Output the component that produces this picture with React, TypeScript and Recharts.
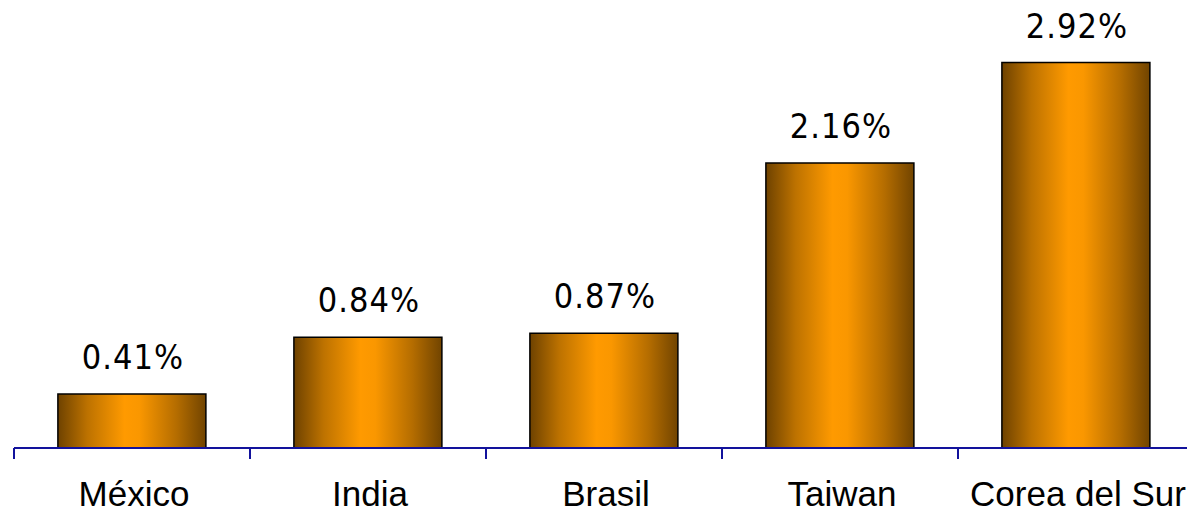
import React from "react";
import { BarChart, Bar, XAxis, YAxis, LabelList } from "recharts";

const categories = ["México", "India", "Brasil", "Taiwan", "Corea del Sur"];
const values = [0.41, 0.84, 0.87, 2.16, 2.92];
const valueLabels = ["0.41%", "0.84%", "0.87%", "2.16%", "2.92%"];

const data = categories.map((c, i) => ({ name: c, value: values[i], label: valueLabels[i] }));

const AXIS_COLOR = "#12129c";

const CategoryTick = (props: any) => {
  const { x, y, payload, index, visibleTicksCount } = props;
  const half = payload && payload.offset ? payload.offset : 0;
  const last = index === (visibleTicksCount ? visibleTicksCount - 1 : categories.length - 1);
  return (
    <g>
      <line x1={x - half} x2={x - half} y1={y} y2={y + 11} stroke={AXIS_COLOR} strokeWidth={2} />
      {last && <line x1={x + half - 1} x2={x + half - 1} y1={y} y2={y + 11} stroke={AXIS_COLOR} strokeWidth={2} />}
      <text
        x={x + 2}
        y={y + 58}
        textAnchor="middle"
        fontFamily="'Liberation Sans', Arial, sans-serif"
        fontSize={35}
        fill="#000"
      >
        {payload.value}
      </text>
    </g>
  );
};

const ValueLabel = (props: any) => {
  const { x, y, width, index } = props;
  return (
    <text
      x={x + width / 2 + 1}
      y={y - 25}
      textAnchor="middle"
      fontFamily="'DejaVu Sans Condensed', 'DejaVu Sans', sans-serif"
      fontStretch="condensed"
      fontSize={34}
      letterSpacing={1}
      fill="#000"
    >
      {valueLabels[index]}
    </text>
  );
};

export default function App() {
  return (
    <div style={{ width: 1195, height: 514, background: "#fff", margin: "-8px 0 0 -8px" }}>
      <BarChart
        width={1195}
        height={514}
        data={data}
        margin={{ top: 23, right: 1, bottom: 0, left: 14 }}
        barCategoryGap="18.6%"
      >
        <defs>
          <linearGradient id="barGrad" x1="0" y1="0" x2="1" y2="0">
            <stop offset="0%" stopColor="#6E4200" />
            <stop offset="20%" stopColor="#BD7200" />
            <stop offset="45%" stopColor="#FF9A00" />
            <stop offset="55%" stopColor="#FA9700" />
            <stop offset="80%" stopColor="#B56D00" />
            <stop offset="100%" stopColor="#714400" />
          </linearGradient>
        </defs>
        <XAxis
          dataKey="name"
          height={66}
          tickSize={0}
          tickMargin={0}
          tickLine={false}
          axisLine={{ stroke: AXIS_COLOR, strokeWidth: 2 }}
          tick={<CategoryTick />}
          interval={0}
        />
        <YAxis hide domain={[0, 3.22]} />
        <Bar
          dataKey="value"
          fill="url(#barGrad)"
          stroke="#000"
          strokeWidth={1.5}
          isAnimationActive={false}
        >
          <LabelList dataKey="value" content={<ValueLabel />} />
        </Bar>
      </BarChart>
    </div>
  );
}
